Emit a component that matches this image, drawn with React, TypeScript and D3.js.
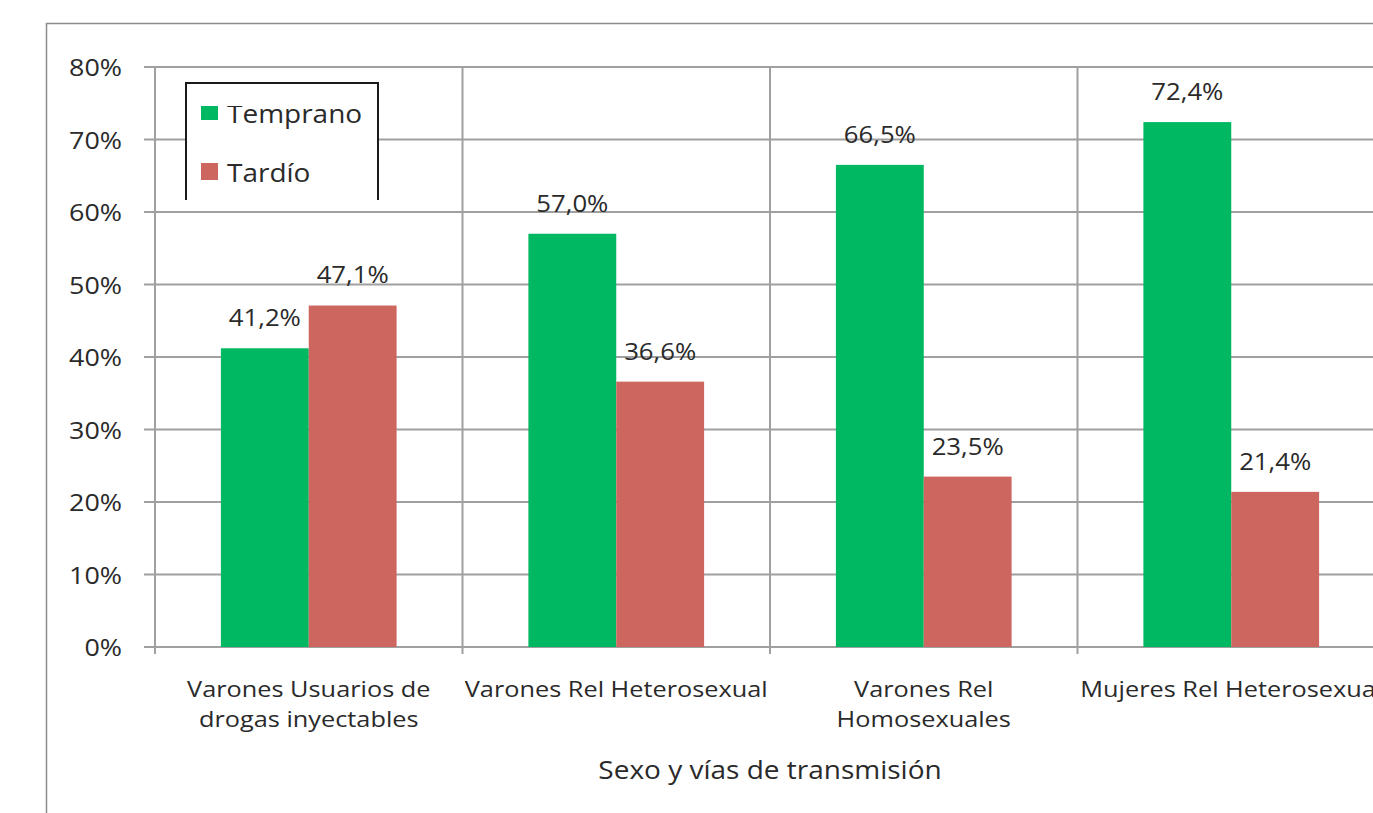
import React from "react";
import * as d3 from "d3";

const categories: string[][] = [
  ["Varones Usuarios de", "drogas inyectables"],
  ["Varones Rel Heterosexual"],
  ["Varones Rel", "Homosexuales"],
  ["Mujeres Rel Heterosexual"],
];
const seriesNames = ["Temprano", "Tardío"];
const temprano = [41.2, 57.0, 66.5, 72.4];
const tardio = [47.1, 36.6, 23.5, 21.4];
const yTicks = [0, 10, 20, 30, 40, 50, 60, 70, 80];
const xTitle = "Sexo y vías de transmisión";

const COLORS = ["#00B862", "#CD665E"];
const FONT = "'Open Sans', 'DejaVu Sans', sans-serif";
const TEXT = "#2a2a2a";
const GRID = "#a0a0a0";
const SX = 1.12;

const W = 1373, H = 813;
const left = 155, top = 67, bottom = 647;
const bandW = 307.5;

function T(props: { x: number; y: number; size: number; anchor?: string; children: React.ReactNode; fill?: string }) {
  const { x, y, size, anchor = "middle", children, fill = TEXT } = props;
  return (
    <text transform={`translate(${x},${y}) scale(${SX},1)`} fontSize={size} textAnchor={anchor} fill={fill} fontFamily={FONT} dominantBaseline="central">
      {children}
    </text>
  );
}

export default function App() {
  const keys = categories.map((c, i) => String(i));
  const x = d3.scaleBand<string>().domain(keys).range([left, left + bandW * keys.length]).paddingInner(0).paddingOuter(0);
  const xs = d3.scaleBand<string>().domain(seriesNames).range([0, x.bandwidth()]).paddingInner(0).paddingOuter(0.75);
  const y = d3.scaleLinear().domain([0, 80]).range([bottom, top]);
  const values = [temprano, tardio];
  const right = left + bandW * keys.length;

  return (
    <svg width={W} height={H} style={{ position: "absolute", left: 0, top: 0, background: "#fff" }}>
      <defs>
        <clipPath id="legclip">
          <rect x={180} y={106} width={220} height={100} />
        </clipPath>
      </defs>
      <rect x={0} y={0} width={W} height={H} fill="#fff" />
      <path d={`M46.5,${H} V23.5 H${W}`} fill="none" stroke="#8c8c8c" strokeWidth={1.5} />
      {yTicks.map((t) => (
        <line key={"h" + t} x1={144} x2={right} y1={y(t)} y2={y(t)} stroke={GRID} strokeWidth={2} />
      ))}
      {keys.map((k) => (
        <line key={"v" + k} x1={x(k)!} x2={x(k)!} y1={top} y2={bottom + 7} stroke={GRID} strokeWidth={2} />
      ))}
      {keys.map((k, i) =>
        seriesNames.map((s, j) => (
          <rect key={k + s} x={x(k)! + xs(s)!} y={y(values[j][i])} width={xs.bandwidth()} height={bottom - y(values[j][i])} fill={COLORS[j]} />
        ))
      )}
      {keys.map((k, i) =>
        seriesNames.map((s, j) => (
          <T key={"l" + k + s} x={x(k)! + xs(s)! + xs.bandwidth() / 2} y={y(values[j][i]) - 31} size={23}>
            {values[j][i].toFixed(1).replace(".", ",") + "%"}
          </T>
        ))
      )}
      {yTicks.map((t) => (
        <T key={"yt" + t} x={122} y={y(t)} size={24} anchor="end">
          {t + "%"}
        </T>
      ))}
      {keys.map((k, i) =>
        categories[i].map((line, li) => (
          <T key={"c" + k + li} x={x(k)! + x.bandwidth() / 2} y={688 + li * 30} size={22.6}>
            {line}
          </T>
        ))
      )}
      <T x={770} y={770} size={25}>
        {xTitle}
      </T>
      <path d="M186,200 V83 H378 V200" fill="#fff" stroke="#1a1a1a" strokeWidth={2} />
      {seriesNames.map((s, j) => (
        <g key={"lg" + s} clipPath={j === 0 ? "url(#legclip)" : undefined}>
          <rect x={201} y={103 + j * 60} width={17} height={17} fill={COLORS[j]} />
          <T x={227} y={114 + j * 59} size={25} anchor="start">
            {s}
          </T>
        </g>
      ))}
    </svg>
  );
}
